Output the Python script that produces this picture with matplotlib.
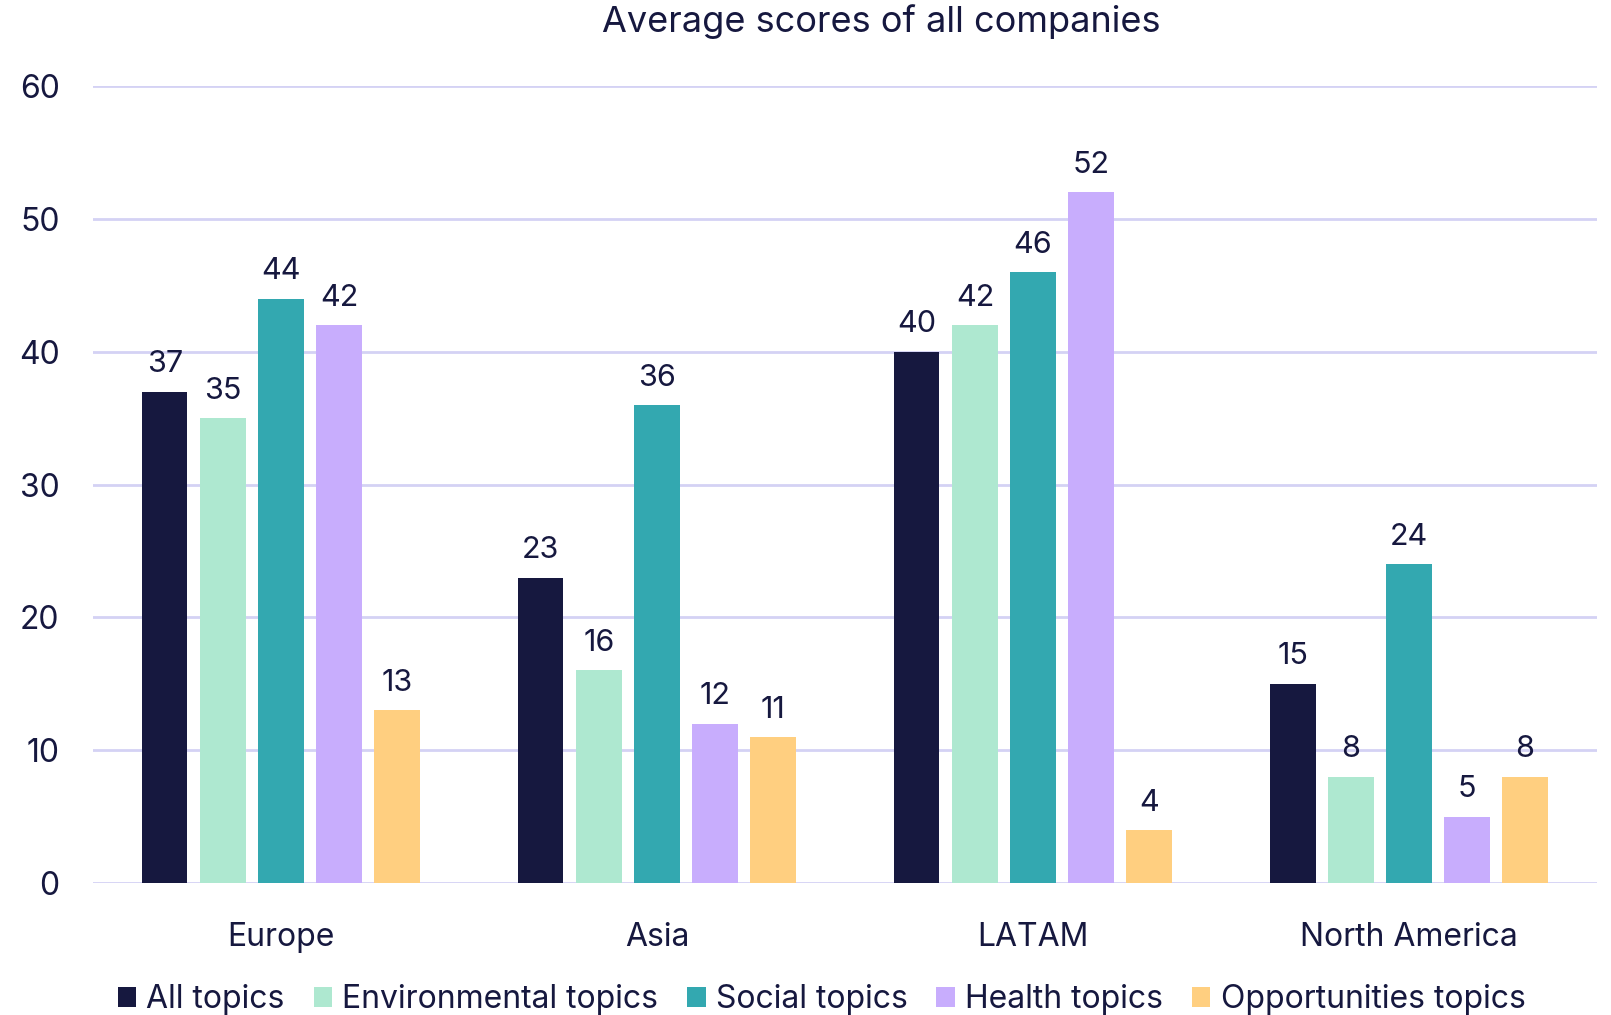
import numpy as np
import matplotlib
matplotlib.use("Agg")
import matplotlib.pyplot as plt

# --- data ---
regions = ["Europe", "Asia", "LATAM", "North America"]
series_names = ["All topics", "Environmental topics", "Social topics",
                "Health topics", "Opportunities topics"]
all_topics = [37, 23, 40, 15]
environmental = [35, 16, 42, 8]
social = [44, 36, 46, 24]
health = [42, 12, 52, 5]
opportunities = [13, 11, 4, 8]
yticks = [0, 10, 20, 30, 40, 50, 60]

values = [all_topics, environmental, social, health, opportunities]
colors = ["#16183F", "#AEE8D0", "#33A8B0", "#C8ADFD", "#FFCF80"]
text_col = "#16183F"
grid_col = "#D4D2F4"

plt.rcParams["font.family"] = ["Inter", "DejaVu Sans"]

fig = plt.figure(figsize=(16.11, 10.15), dpi=100)
ax = fig.add_axes([0.0577, 0.130, 0.9336, 0.7853])

x = np.arange(len(regions))
step = 0.1543
width = 0.12
for k, (name, vals, c) in enumerate(zip(series_names, values, colors)):
    pos = x + (k - 2) * step
    bars = ax.bar(pos, vals, width=width, color=c, label=name, zorder=3)
    for b, v in zip(bars, vals):
        ax.text(b.get_x() + b.get_width() / 2, v + 1.0, str(v),
                ha="center", va="bottom", fontsize=22, color=text_col)

ax.set_xlim(-0.5, len(regions) - 0.5)
ax.set_ylim(0, 60)
ax.set_yticks(yticks)
ax.set_yticklabels([str(t) for t in yticks])
ax.set_xticks(x)
ax.set_xticklabels(regions)
ax.tick_params(axis="both", length=0, labelsize=23, colors=text_col)
ax.tick_params(axis="y", pad=24)
ax.tick_params(axis="x", pad=28)

ax.grid(axis="y", color=grid_col, linewidth=2, zorder=0)
ax.set_axisbelow(True)
for s in ax.spines.values():
    s.set_visible(False)

fig.text(0.547, 0.979, "Average scores of all companies", ha="center", va="center",
         fontsize=26, color=text_col)

leg = fig.legend(loc="center", bbox_to_anchor=(0.51, 0.015), ncol=5, frameon=False,
                 fontsize=23, handlelength=0.58, handleheight=0.58,
                 handletextpad=0.32, columnspacing=0.9, labelcolor=text_col)

fig.savefig("out.png", dpi=100)
